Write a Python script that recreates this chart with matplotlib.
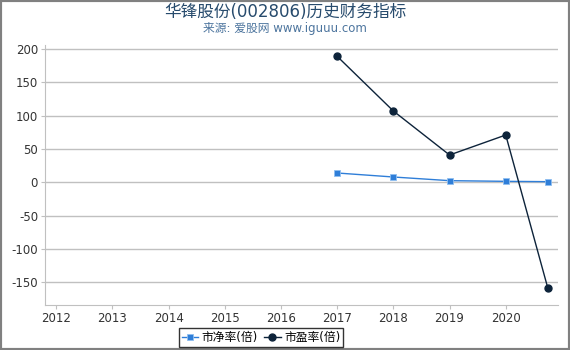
import matplotlib
matplotlib.use('Agg')
import matplotlib.pyplot as plt
from matplotlib.patches import Rectangle

plt.rcParams['font.family'] = ['DejaVu Sans', 'Noto Sans CJK SC']
plt.rcParams['axes.unicode_minus'] = False

years_pb = [2017, 2018, 2019, 2020, 2020.75]
pb = [14, 8, 2.5, 1.5, 1]
years_pe = [2017, 2018, 2019, 2020, 2020.75]
pe = [189, 107, 41, 71, -159]
xticks = list(range(2012, 2021))
yticks = [-150, -100, -50, 0, 50, 100, 150, 200]

fig = plt.figure(figsize=(5.7, 3.5), dpi=100)
ax = fig.add_axes([45/570, 45/350, 513/570, 260/350])

grid_c = '#c0c0c0'
for y in yticks:
    ax.axhline(y, color=grid_c, lw=1, zorder=0)

ax.plot(years_pb, pb, color='#2f7ed8', lw=1, marker='s', ms=5,
        markerfacecolor='#2f7ed8', markeredgecolor='#8fbff0', markeredgewidth=0.6,
        label='市净率(倍)', zorder=3)
ax.plot(years_pe, pe, color='#0d233a', lw=1, marker='o', ms=5,
        label='市盈率(倍)', zorder=3)

ax.set_xlim(2011.8, 2020.93)
ax.set_ylim(-184, 206)
ax.set_xticks(xticks)
ax.set_yticks(yticks)
ax.tick_params(axis='both', labelsize=8.5, colors='#333333', length=3, width=0.8, pad=2)
ax.tick_params(axis='x', color=grid_c)
ax.tick_params(axis='y', color=grid_c)
for s in ['top', 'right']:
    ax.spines[s].set_visible(False)
ax.spines['left'].set_color(grid_c)
ax.spines['bottom'].set_color(grid_c)

fig.text(0.5, 0.965, '华锋股份(002806)历史财务指标', ha='center', va='center',
         fontsize=12, color='#274b6d')
fig.text(0.5, 0.918, '来源: 爱股网 www.iguuu.com', ha='center', va='center',
         fontsize=8.5, color='#4d759e')

leg = fig.legend(loc='lower center', bbox_to_anchor=(0.458, 0.003), ncol=2, fontsize=8.5,
                 frameon=True, fancybox=False, edgecolor='black', handlelength=1.4,
                 handletextpad=0.3, columnspacing=0.5, borderpad=0.25, borderaxespad=0.2)
leg.get_frame().set_linewidth(1)

fig.patches.append(Rectangle((0, 0), 1, 1, transform=fig.transFigure, fill=False,
                             edgecolor='#808080', lw=3))

fig.savefig('out.png', dpi=100)
